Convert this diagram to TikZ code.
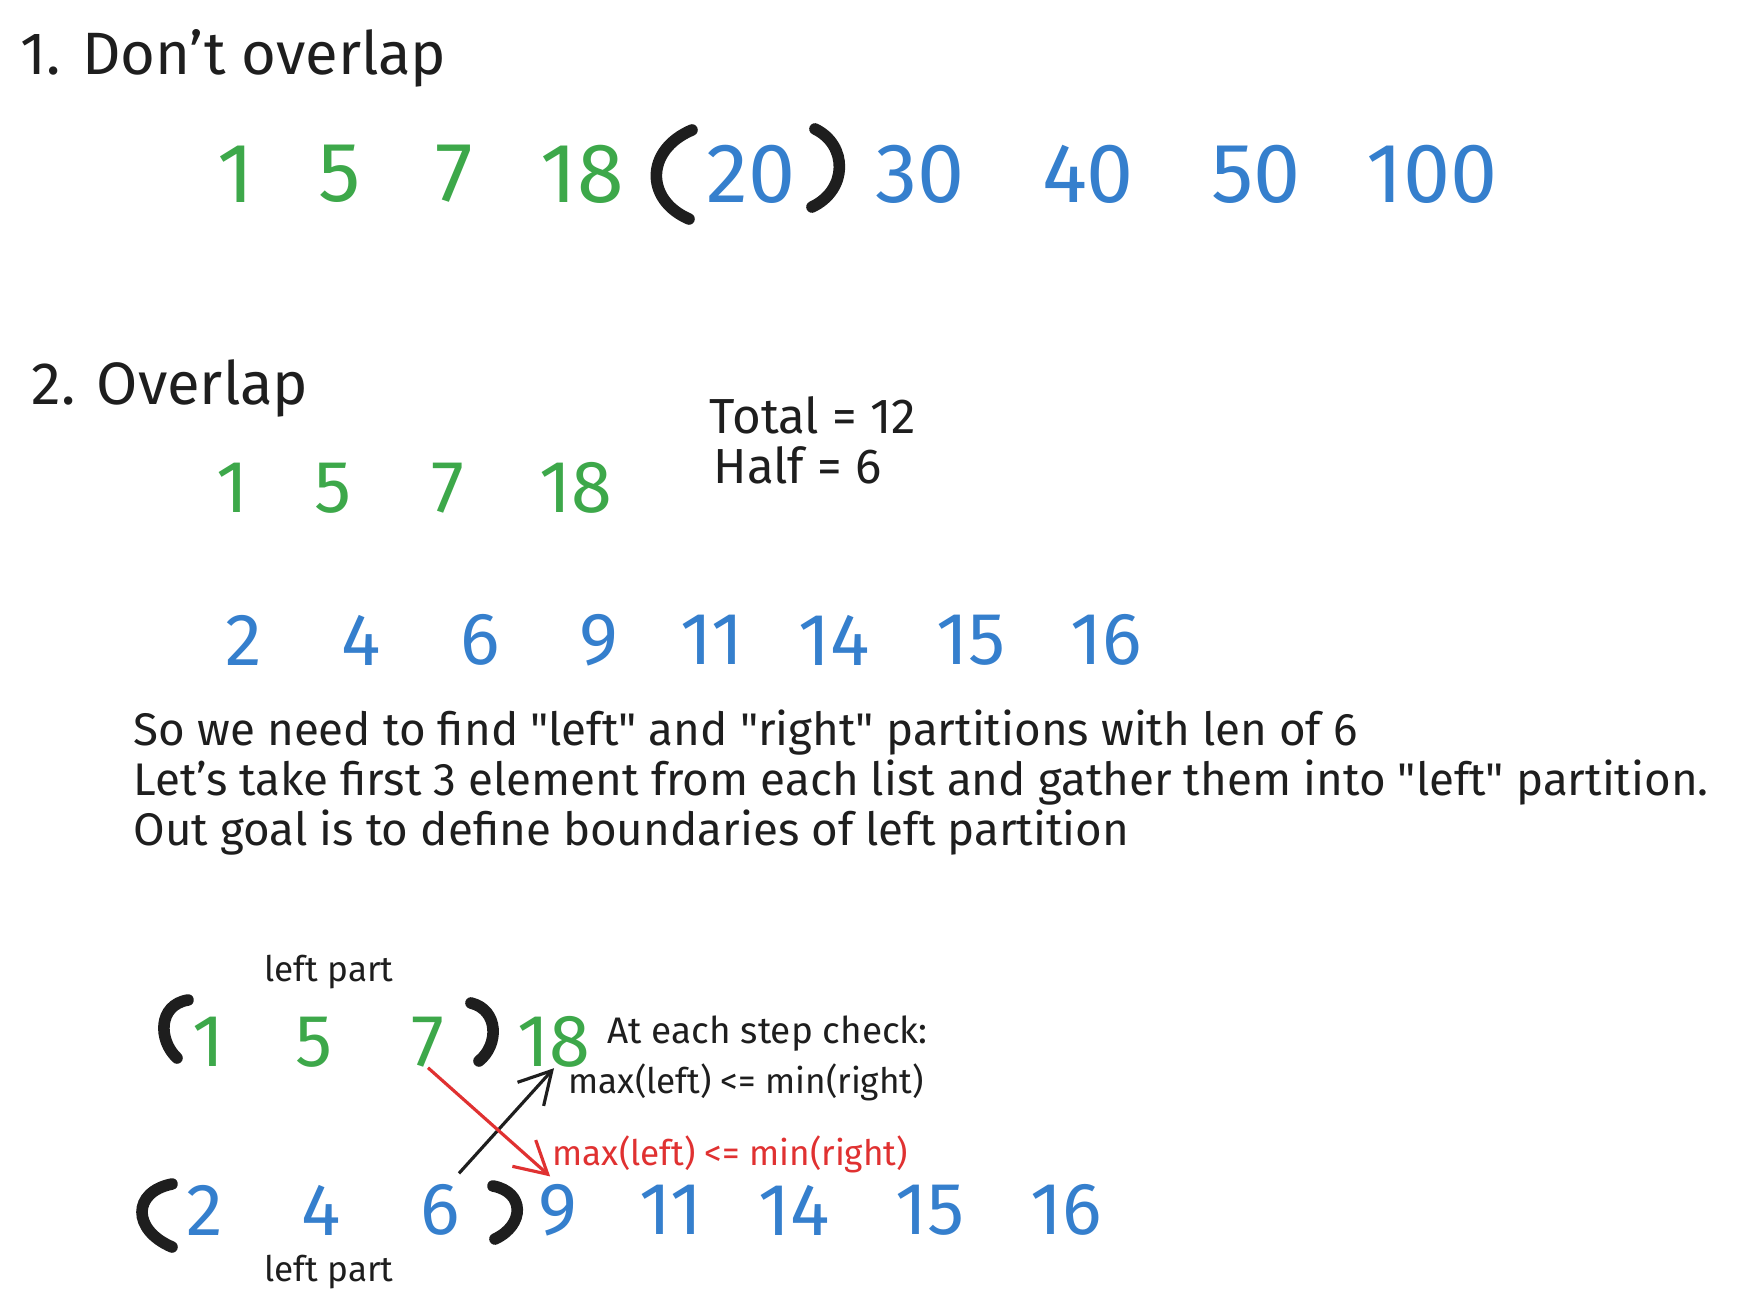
\documentclass[tikz,border=0pt]{standalone}
\usepackage{fontspec}
\setmainfont{Fira Sans}
\usepackage{xcolor}
\usepackage{tikz}
\usetikzlibrary{arrows.meta}

\definecolor{lowgreen}{HTML}{3DA84A}
\definecolor{highblue}{HTML}{357FCD}
\definecolor{checkred}{HTML}{E03131}
\definecolor{ink}{HTML}{1E1E1E}

\begin{document}
\begin{tikzpicture}
                    [x=0.01cm, y=-0.01cm,
                    title/.style = {anchor=base west, inner sep=0pt, text=ink,
                                    font=\fontsize{17}{20}\selectfont},
                    big/.style = {inner sep=0pt, font=\fontsize{24}{28}\selectfont},
                    num/.style = {inner sep=0pt, font=\fontsize{21}{25}\selectfont},
                    low/.style = {text=lowgreen},
                    high/.style = {text=highblue},
                    note/.style = {anchor=base west, inner sep=0pt, text=ink,
                                   font=\fontsize{13}{15}\selectfont},
                    small/.style = {inner sep=0pt, text=ink, font=\fontsize{10}{12}\selectfont},
                    paren/.style = {draw=ink, line width=3.3pt, line cap=round},
                    check/.style = {line width=0.9pt, -{Straight Barb[length=9pt,width=10pt]}}]
                    \fill[white] (0,0) rectangle (1738,1316);
                    \useasboundingbox (0,0) rectangle (1738,1316);
                    % 1. Sin solape
                    \node[title] (T1) at (20,75) {1. Don't overlap};
                    \node[big,low] (A1) at (236,174) {1};
                    \node[big,low] (A2) at (340,174) {5};
                    \node[big,low] (A3) at (454,174) {7};
                    \node[big,low] (A4) at (582,174) {18};
                    \node[big,high] (A5) at (751,174) {20};
                    \node[big,high] (A6) at (920,174) {30};
                    \node[big,high] (A7) at (1088,174) {40};
                    \node[big,high] (A8) at (1256,174) {50};
                    \node[big,high] (A9) at (1432,174) {100};
                    \draw[paren] (692,130) .. controls (645,150) and (645,200) .. (689,219);
                    \draw[paren] (815,129) .. controls (848,145) and (848,190) .. (812,207);
                    % 2. Con solape
                    \node[title] (T2) at (31,405) {2. Overlap};
                    \node[note, font=\fontsize{14}{16}\selectfont] (tot) at (709,434) {Total = 12};
                    \node[note, font=\fontsize{14}{16}\selectfont] (half) at (713,484) {Half = 6};
                    \node[num,low] (B1) at (232,488) {1};
                    \node[num,low] (B2) at (333,488) {5};
                    \node[num,low] (B3) at (448,488) {7};
                    \node[num,low] (B4) at (576,488) {18};
                    \node[num,high] (C1) at (244,640) {2};
                    \node[num,high] (C2) at (361,640) {4};
                    \node[num,high] (C3) at (480,640) {6};
                    \node[num,high] (C4) at (599,640) {9};
                    \node[num,high] (C5) at (712,640) {11};
                    \node[num,high] (C6) at (834,640) {14};
                    \node[num,high] (C7) at (971,640) {15};
                    \node[num,high] (C8) at (1106,640) {16};
                    % Explicacion
                    \node[note] (L1) at (133,746) {So we need to find \textquotedbl left\textquotedbl{} and \textquotedbl right\textquotedbl{} partitions with len of 6};
                    \node[note] (L2) at (133,796) {Let's take first 3 element from each list and gather them into \textquotedbl left\textquotedbl{} partition.};
                    \node[note] (L3) at (133,846) {Out goal is to define boundaries of left partition};
                    % Particion izquierda
                    \node[small] (up) at (329,972) {left part};
                    \node[num,low] (D1) at (208,1042) {1};
                    \node[num,low] (D2) at (314,1042) {5};
                    \node[num,low] (D3) at (428,1042) {7};
                    \node[num,low] (D4) at (554,1042) {18};
                    \draw[paren] (188,1000) .. controls (158,1005) and (158,1040) .. (177,1058);
                    \draw[paren] (471,1003) .. controls (499,1010) and (499,1045) .. (479,1061);
                    \node[num,high] (E1) at (205,1210) {2};
                    \node[num,high] (E2) at (321,1210) {4};
                    \node[num,high] (E3) at (440,1210) {6};
                    \node[num,high] (E4) at (558,1210) {9};
                    \node[num,high] (E5) at (671,1210) {11};
                    \node[num,high] (E6) at (794,1210) {14};
                    \node[num,high] (E7) at (930,1210) {15};
                    \node[num,high] (E8) at (1066,1210) {16};
                    \draw[paren] (172,1184) .. controls (132,1192) and (132,1230) .. (172,1247);
                    \draw[paren] (493,1186) .. controls (525,1192) and (525,1225) .. (495,1239);
                    \node[small] (down) at (329,1272) {left part};
                    % Comprobaciones
                    \node[small, anchor=base west, font=\fontsize{10.5}{12}\selectfont] (step) at (607,1044) {At each step check:};
                    \node[small, anchor=base west] (chk1) at (568,1094) {max(left) <= min(right)};
                    \node[small, anchor=base west, text=checkred] (chk2) at (552,1166) {max(left) <= min(right)};
                    \draw[check, ink, shorten <=4pt] (E3.70) -- (D4.south);
                    \draw[check, checkred, shorten >=3pt] (D3.south) -- (E4.north);
                \end{tikzpicture}
\end{document}
